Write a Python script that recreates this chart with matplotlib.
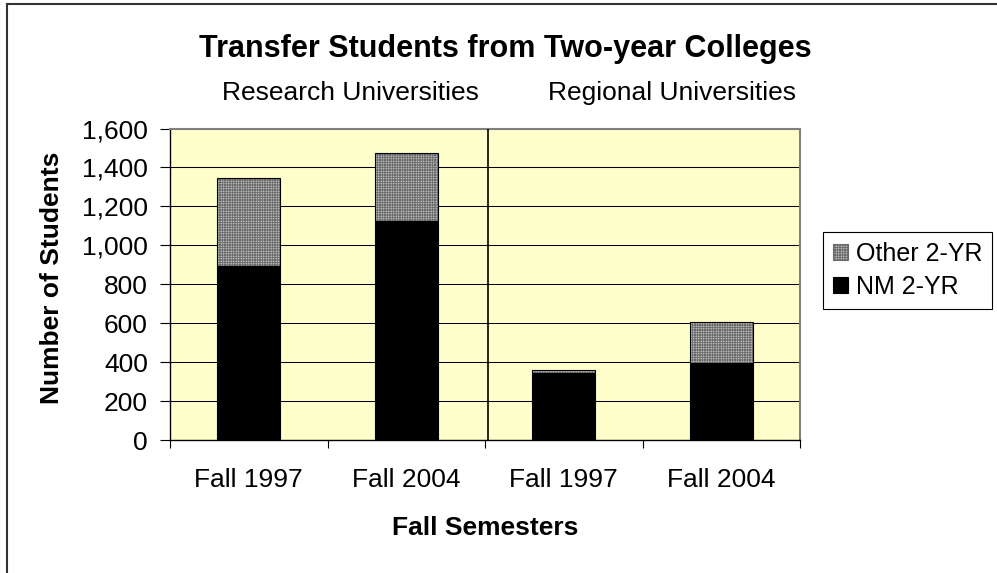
import matplotlib
matplotlib.use("Agg")
import matplotlib.pyplot as plt
from matplotlib.patches import Patch
from matplotlib.lines import Line2D
import numpy as np

plt.rcParams['font.family'] = ['Liberation Sans', 'DejaVu Sans']
plt.rcParams['hatch.linewidth'] = 0.5

# data
semesters = ['Fall 1997', 'Fall 2004', 'Fall 1997', 'Fall 2004']
groups = ['Research Universities', 'Regional Universities']
nm_2yr = [894, 1126, 343, 397]
other_2yr = [450, 346, 17, 207]
y_ticks = [0, 200, 400, 600, 800, 1000, 1200, 1400, 1600]

W, H = 997, 573
HATCH = '+' * 10
HATCH_FACE = '#e6e6e6'
HATCH_LINE = '#6a6a6a'


def fx(x):
    return x / W


def fy(y):
    return 1 - y / H


fig = plt.figure(figsize=(W / 100, H / 100), dpi=100)
ax = fig.add_axes([fx(170), fy(440), 630 / W, 311.5 / H])
ax.set_facecolor('#FFFFCC')

x = np.arange(len(semesters))
bw = 0.4
ax.bar(x, nm_2yr, bw, color='black', edgecolor='black', linewidth=0.8, zorder=3)
ax.bar(x, other_2yr, bw, bottom=nm_2yr, color=HATCH_FACE, edgecolor=HATCH_LINE,
       hatch=HATCH, linewidth=0, zorder=3)
ax.bar(x, other_2yr, bw, bottom=nm_2yr, fill=False, edgecolor='black',
       linewidth=0.8, zorder=4)

# divider between the two groups
ax.axvline(1.52, color='black', linewidth=1.2, zorder=5)

ax.set_xlim(-0.5, 3.5)
ax.set_ylim(0, 1600)
ax.set_yticks(y_ticks)
ax.set_yticklabels([f'{v:,}' for v in y_ticks])
ax.yaxis.grid(True, color='black', linewidth=0.75, zorder=1)
ax.set_axisbelow(True)

ax.set_xticks(x)
ax.set_xticklabels(semesters)
ax.set_xticks(np.arange(-0.5, 4, 1), minor=True)
ax.tick_params(axis='x', which='major', length=0, pad=20, labelsize=19)
ax.tick_params(axis='x', which='minor', length=6, width=0.8, direction='out')
ax.tick_params(axis='y', length=7, width=0.8, pad=9, labelsize=19)

for s in ['left', 'bottom']:
    ax.spines[s].set_color('black')
    ax.spines[s].set_linewidth(1)
for s in ['top', 'right']:
    ax.spines[s].set_color('#808080')
    ax.spines[s].set_linewidth(1.5)

# titles and axis labels
fig.text(fx(505), fy(57), 'Transfer Students from Two-year Colleges',
         ha='center', va='baseline', fontsize=22, fontweight='bold')
fig.text(fx(350), fy(100), groups[0], ha='center', va='baseline', fontsize=19)
fig.text(fx(548), fy(100), groups[1], ha='left', va='baseline', fontsize=19)
fig.text(fx(485), fy(535), 'Fall Semesters', ha='center', va='baseline',
         fontsize=19, fontweight='bold')
fig.text(fx(52), fy(278), 'Number of Students', ha='center', va='center',
         rotation=90, fontsize=19, fontweight='bold')

# legend
hatch_handle = Patch(facecolor=HATCH_FACE, edgecolor=HATCH_LINE, hatch=HATCH,
                     linewidth=0.8)
handles = [hatch_handle, Patch(facecolor='black', edgecolor='black', linewidth=0.8)]
leg = fig.legend(handles, ['Other 2-YR', 'NM 2-YR'], loc='upper left',
                 bbox_to_anchor=(fx(823), fy(232)), borderaxespad=0,
                 fancybox=False, edgecolor='black', framealpha=1,
                 fontsize=18, handlelength=0.6, handleheight=0.6,
                 handletextpad=0.3, borderpad=0.4, labelspacing=0.35)
leg.get_frame().set_linewidth(0.8)

# chart area border
fig.add_artist(Line2D([fx(7), fx(7)], [fy(4), 0], color='#333333', linewidth=1.5))
fig.add_artist(Line2D([fx(7), 1], [fy(4), fy(4)], color='#333333', linewidth=1.5))

fig.savefig('out.png', dpi=100)
